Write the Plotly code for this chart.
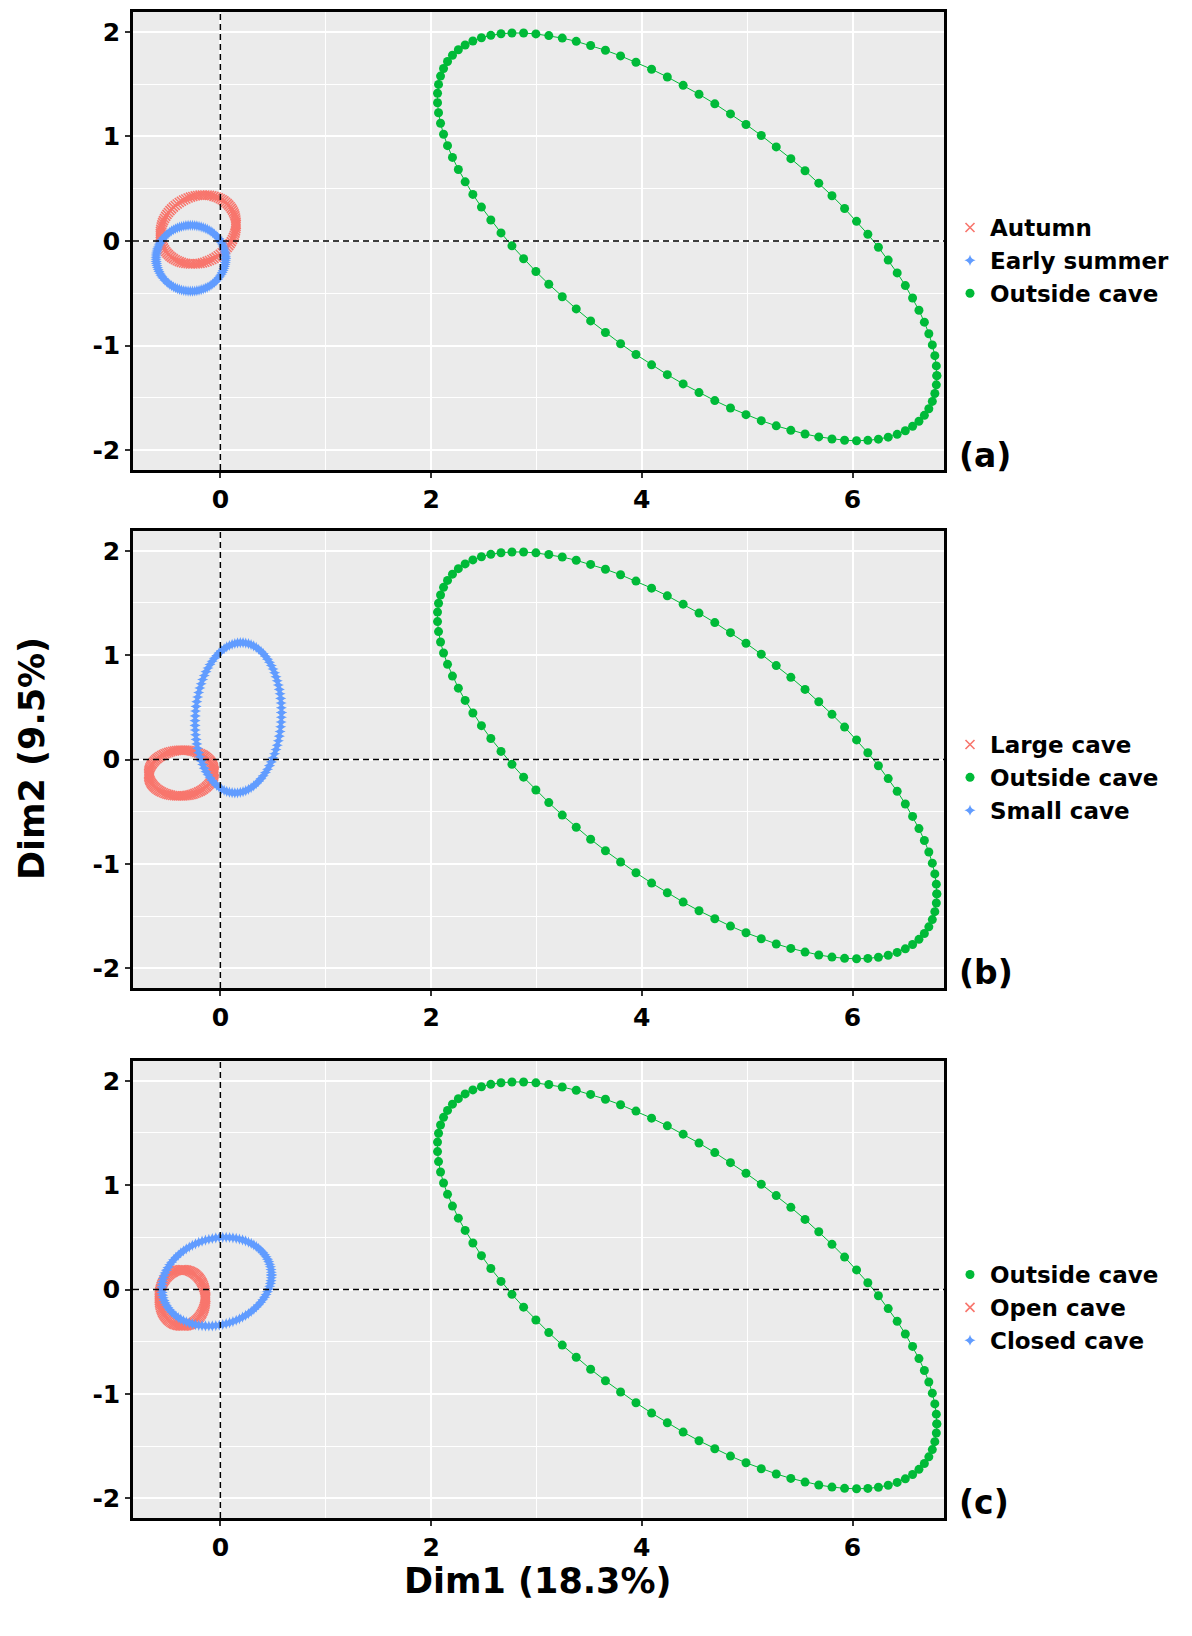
import numpy as np
import plotly.graph_objects as go

N_POINTS = 100  # points per confidence ellipse outline

# ---- panel (a): season ----
a_groups = ["Autumn", "Early summer", "Outside cave"]
a_cx = [-0.21, -0.28, 4.43]
a_cy = [0.11, -0.165, 0.04]
a_rx = [0.36, 0.33, 2.37]
a_ry = [0.33, 0.315, 1.95]
a_r = [0.15, 0.0, -0.681]

# ---- panel (b): cave size ----
b_groups = ["Large cave", "Outside cave", "Small cave"]
b_cx = [-0.37, 4.43, 0.17]
b_cy = [-0.13, 0.04, 0.40]
b_rx = [0.31, 2.37, 0.41]
b_ry = [0.22, 1.95, 0.72]
b_r = [0.05, -0.681, 0.07]

# ---- panel (c): cave type ----
c_groups = ["Outside cave", "Open cave", "Closed cave"]
c_cx = [4.43, -0.36, -0.035]
c_cy = [0.04, -0.08, 0.075]
c_rx = [2.37, 0.22, 0.52]
c_ry = [1.95, 0.27, 0.425]
c_r = [-0.681, 0.0, 0.15]

panel_labels = ["(a)", "(b)", "(c)"]
x_ticks = [0, 2, 4, 6]
x_ticktext = ["0", "2", "4", "6"]
y_ticks = [-2, -1, 0, 1, 2]
y_ticktext = ["-2", "-1", "0", "1", "2"]
x_title = "Dim1 (18.3%)"
y_title = "Dim2 (9.5%)"

RED = "#F8766D"
BLUE = "#619CFF"
GREEN = "#00BA38"
KIND = {
    "Autumn": "red", "Large cave": "red", "Open cave": "red",
    "Early summer": "blue", "Small cave": "blue", "Closed cave": "blue",
    "Outside cave": "green",
}
COLOR = {"red": RED, "blue": BLUE, "green": GREEN}


def ellipse(cx, cy, rx, ry, r):
    t = np.linspace(0, 2 * np.pi, N_POINTS)
    x = cx + rx * np.cos(t)
    y = cy + ry * (r * np.cos(t) + np.sqrt(1 - r * r) * np.sin(t))
    return x, y


def marker_for(kind):
    if kind == "red":
        return dict(symbol="x-thin", size=9, color=RED, line=dict(color=RED, width=1.6))
    if kind == "blue":
        return dict(symbol="star-diamond", size=8, color=BLUE, line=dict(width=0))
    return dict(symbol="circle", size=9, color=GREEN, line=dict(width=0))


fig = go.Figure()

panels = [
    (a_groups, a_cx, a_cy, a_rx, a_ry, a_r),
    (b_groups, b_cx, b_cy, b_rx, b_ry, b_r),
    (c_groups, c_cx, c_cy, c_rx, c_ry, c_r),
]

FONT = "DejaVu Sans"
W, H = 1192, 1636
x_dom = [125 / W, 936 / W]
panel_px = [(4, 462), (523, 980), (1053, 1510)]
y_doms = [[1 - b / H, 1 - t / H] for t, b in panel_px]
legend_tops = [198, 715, 1245]
label_y = [448, 965, 1494]

X_RANGE = [-0.829, 6.868]
Y_RANGE = [-2.19, 2.19]

for i, (groups, cxs, cys, rxs, rys, rs) in enumerate(panels):
    suffix = "" if i == 0 else str(i + 1)
    leg = "legend" if i == 0 else f"legend{i + 1}"
    for g, cx, cy, rx, ry, r in zip(groups, cxs, cys, rxs, rys, rs):
        kind = KIND[g]
        ex, ey = ellipse(cx, cy, rx, ry, r)
        # outline path
        fig.add_trace(go.Scatter(
            x=ex, y=ey, mode="lines", name=g, showlegend=False,
            line=dict(color=COLOR[kind], width=1),
            xaxis="x" + suffix, yaxis="y" + suffix, hoverinfo="skip",
        ))
        # points on the outline (legend entry)
        fig.add_trace(go.Scatter(
            x=ex, y=ey, mode="markers", name=g,
            marker=marker_for(kind),
            xaxis="x" + suffix, yaxis="y" + suffix, legend=leg,
        ))

    axis_common = dict(
        showline=True, linecolor="black", linewidth=2.5, mirror=True,
        ticks="outside", ticklen=5, tickwidth=1.5, tickcolor="#333333",
        showgrid=True, gridcolor="white", gridwidth=1.8,
        zeroline=False,
        tickfont=dict(family=FONT, size=25, color="black", weight="bold"),
    )
    fig.update_layout({
        "xaxis" + suffix: dict(
            axis_common, domain=x_dom, range=X_RANGE,
            tickvals=x_ticks, ticktext=x_ticktext,
            anchor="y" + suffix,
            minor=dict(tickvals=[-1, 1, 3, 5], showgrid=True, gridcolor="white",
                       gridwidth=1.0, ticks=""),
        ),
        "yaxis" + suffix: dict(
            axis_common, domain=y_doms[i], range=Y_RANGE,
            tickvals=y_ticks, ticktext=y_ticktext,
            anchor="x" + suffix,
            minor=dict(tickvals=[-1.5, -0.5, 0.5, 1.5], showgrid=True,
                       gridcolor="white", gridwidth=1.0, ticks=""),
        ),
        leg: dict(
            x=942 / W, xanchor="left", y=1 - legend_tops[i] / H, yanchor="top",
            bgcolor="rgba(0,0,0,0)", borderwidth=0, tracegroupgap=0,
            font=dict(family=FONT, size=23, color="black", weight="bold"),
            itemsizing="trace",
        ),
    })

    xr = "x" + suffix
    yr = "y" + suffix
    fig.add_shape(type="line", xref=xr, yref=yr + " domain", x0=0, x1=0, y0=0, y1=1,
                  line=dict(color="black", width=1.5, dash="6px,4px"), layer="above")
    fig.add_shape(type="line", xref=xr + " domain", yref=yr, x0=0, x1=1, y0=0, y1=0,
                  line=dict(color="black", width=1.5, dash="6px,4px"), layer="above")

    fig.add_annotation(
        text=panel_labels[i], xref="paper", yref="paper",
        x=949 / W, y=1 - label_y[i] / H, xanchor="left", yanchor="middle",
        showarrow=False, font=dict(family=FONT, size=33, color="black", weight="bold"),
    )

fig.add_annotation(
    text=x_title, xref="paper", yref="paper", x=529 / W, y=1 - 1573 / H,
    xanchor="center", yanchor="middle", showarrow=False,
    font=dict(family=FONT, size=35, color="black", weight="bold"),
)
fig.add_annotation(
    text=y_title, xref="paper", yref="paper", x=24 / W, y=1 - 751 / H,
    xanchor="center", yanchor="middle", textangle=-90, showarrow=False,
    font=dict(family=FONT, size=35, color="black", weight="bold"),
)

fig.update_layout(
    width=W, height=H, margin=dict(l=0, r=0, t=0, b=0),
    paper_bgcolor="white", plot_bgcolor="#EBEBEB",
    showlegend=True,
)

fig.write_html("out.html")
